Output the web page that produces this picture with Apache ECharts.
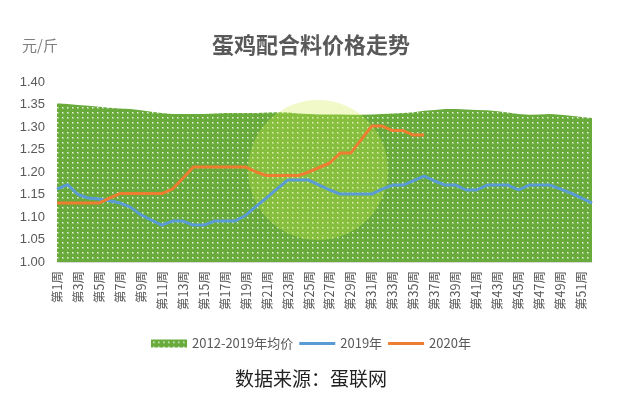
<!DOCTYPE html>
<html><head><meta charset="utf-8">
<script src="https://cdn.jsdelivr.net/npm/echarts@6/dist/echarts.min.js"></script>
<style>html,body{margin:0;padding:0;background:#fff}#c{width:622px;height:393px}</style>
</head><body><div id="c"></div>
<script>
var weeks = [];
for (var i = 1; i <= 52; i++) weeks.push('第' + i + '周');
var yTicks = ['1.00','1.05','1.10','1.15','1.20','1.25','1.30','1.35','1.40'];
var avgPrice = [1.353,1.351,1.349,1.347,1.345,1.343,1.341,1.340,1.337,1.334,1.331,1.329,1.329,1.329,1.329,1.330,1.331,1.331,1.331,1.331,1.332,1.333,1.332,1.330,1.329,1.328,1.328,1.328,1.327,1.327,1.328,1.329,1.330,1.331,1.333,1.336,1.338,1.340,1.340,1.339,1.338,1.337,1.335,1.332,1.329,1.327,1.328,1.329,1.327,1.325,1.322,1.320];
var price2019 = [1.162,1.172,1.150,1.142,1.140,1.136,1.131,1.122,1.105,1.093,1.082,1.091,1.091,1.082,1.082,1.091,1.091,1.091,1.104,1.124,1.143,1.163,1.182,1.182,1.182,1.171,1.160,1.151,1.151,1.151,1.151,1.162,1.171,1.171,1.181,1.191,1.180,1.171,1.171,1.160,1.160,1.171,1.171,1.171,1.160,1.171,1.171,1.171,1.162,1.153,1.142,1.131];
var price2020 = [1.131,1.131,1.131,1.131,1.131,1.142,1.152,1.152,1.152,1.152,1.152,1.162,1.186,1.211,1.211,1.211,1.211,1.211,1.211,1.200,1.192,1.192,1.192,1.192,1.200,1.210,1.220,1.242,1.242,1.272,1.302,1.302,1.292,1.292,1.282,1.282];
var seriesNames = ['2012-2019年均价','2019年','2020年'];

var cv = document.createElement('canvas');
cv.width = 5; cv.height = 5;
var ctx = cv.getContext('2d');
ctx.fillStyle = '#68ab3b'; ctx.fillRect(0,0,5,5);
ctx.fillStyle = 'rgba(255,255,255,0.35)'; ctx.fillRect(2,2,2,2);
ctx.fillStyle = 'rgba(255,255,255,0.85)'; ctx.fillRect(2,2,1,1);
var pattern = {image: cv, repeat: 'repeat'};
var lineIcon = 'path://M0,0L36,0L36,3L0,3Z';

var chart = echarts.init(document.getElementById('c'));
chart.setOption({
  animation: false,
  title: {text: '蛋鸡配合料价格走势', left: 'center', top: 29,
    textStyle: {fontFamily: 'Noto Sans CJK SC', fontWeight: 'bold', fontSize: 22, color: '#595959'}},
  graphic: [
    {type: 'text', left: 22, top: 38, style: {text: '元/斤', fontFamily: 'Noto Sans CJK SC', fontSize: 15, fill: '#7f7f7f'}},
    {type: 'text', left: 'center', top: 369, style: {text: '数据来源：蛋联网', fontFamily: 'Noto Sans CJK SC', fontSize: 19, fill: '#222'}},
    {type: 'circle', shape: {cx: 318, cy: 170, r: 70}, z: 3, silent: true,
      style: {fill: 'rgba(205,235,70,0.30)'}}
  ],
  legend: {
    bottom: 38, left: 'center', itemGap: 6, itemWidth: 36, itemHeight: 8,
    textStyle: {fontFamily: 'Noto Sans CJK SC', fontSize: 13, color: '#595959'},
    data: [
      {name: seriesNames[0], icon: 'rect', itemStyle: {color: pattern}},
      {name: seriesNames[1], icon: lineIcon, itemStyle: {color: '#5b9bd5'}},
      {name: seriesNames[2], icon: lineIcon, itemStyle: {color: '#ed7d31'}}
    ]
  },
  grid: {left: 57, right: 30, top: 82, bottom: 131},
  xAxis: {
    type: 'category', data: weeks, boundaryGap: false,
    axisLine: {lineStyle: {color: '#d9d9d9'}},
    axisTick: {show: false},
    axisLabel: {rotate: 90, interval: 1, fontSize: 12.5, color: '#595959', fontFamily: 'Noto Sans CJK SC', margin: 9}
  },
  yAxis: {
    type: 'value', min: 1.0, max: 1.4, interval: 0.05,
    axisLine: {show: false}, axisTick: {show: false}, splitLine: {show: false},
    axisLabel: {fontSize: 13, color: '#595959', fontFamily: 'Liberation Sans', margin: 12,
      formatter: function (v) { var idx = Math.round((v - 1) / 0.05); return yTicks[idx] || v.toFixed(2); }}
  },
  series: [
    {name: seriesNames[0], type: 'line', data: avgPrice, symbol: 'none', z: 2,
      lineStyle: {width: 0}, itemStyle: {color: '#68ab3b'},
      areaStyle: {color: pattern, opacity: 1}},
    {name: seriesNames[1], type: 'line', data: price2019, symbol: 'none', z: 5,
      lineStyle: {width: 3, color: '#5b9bd5'}, itemStyle: {color: '#5b9bd5'}},
    {name: seriesNames[2], type: 'line', data: price2020, symbol: 'none', z: 5,
      lineStyle: {width: 3, color: '#ed7d31'}, itemStyle: {color: '#ed7d31'}}
  ]
});
</script></body></html>
